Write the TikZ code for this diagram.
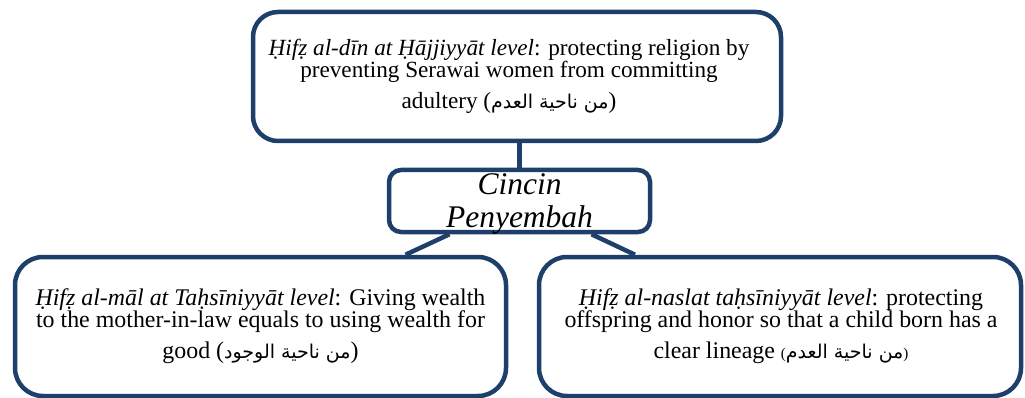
\documentclass[tikz,border=0pt]{standalone}
\usepackage{fontspec}
\setmainfont{Liberation Serif}
\newfontfamily\arabicfont[Script=Arabic]{DejaVu Sans}
\TeXXeTstate=1
\usetikzlibrary{calc}
\definecolor{frameblue}{RGB}{31,63,107}
\newcommand\artext[1]{{\arabicfont\fontsize{19}{20}\selectfont\beginR #1\endR}}
\newcommand\smallparen[1]{{\fontsize{15}{15}\selectfont #1}}
\tikzset{
  box/.style={draw=frameblue, line width=4.5pt, rounded corners=#1,
    fill=white, inner sep=0pt},
  link/.style={draw=frameblue, line width=4.5pt},
  body/.style={align=center, inner sep=0pt, font=\fontsize{#1}{22}\selectfont},
  title/.style={align=center, inner sep=0pt, font=\itshape\fontsize{31.5}{33}\selectfont}
}
\begin{document}
\begin{tikzpicture}[x=1pt,y=-1pt]
\useasboundingbox (0,0) rectangle (1025,398);

% frames
\node[box=25pt, minimum width=528pt, minimum height=129pt] (din) at (517,76.5) {};
\node[box=12pt, minimum width=261pt, minimum height=62pt] (cincin) at (519.5,201) {};
\node[box=28pt, minimum width=491pt, minimum height=139pt] (mal) at (260.5,326.5) {};
\node[box=28pt, minimum width=482pt, minimum height=139pt] (nasl) at (780,326.5) {};

% connectors
\draw[link] (cincin.north) -- (cincin.north |- din.south);
\draw[link] ($(cincin.south)+(-70,0)$) -- ($(mal.north)+(145,0)$);
\draw[link] ($(cincin.south)+(72,0)$) -- ($(nasl.north)+(-145,0)$);

% religion level
\node[body=23.2] (dintext) at ($(din.center)+(-8,0)$)
  {\textit{Ḥifẓ al-dīn at Ḥājjiyyāt level}: protecting religion by\\
   preventing Serawai women from committing\\[9pt]
   adultery (\artext{من ناحية العدم})};

% the custom itself
\node[title] (cincintext) at ($(cincin.center)+(0,3)$) {Cincin\\Penyembah};

% wealth
\node[body=23.9] (maltext) at (mal.center)
  {\textit{Ḥifẓ al-māl at Taḥsīniyyāt level}: Giving wealth\\
   to the mother-in-law equals to using wealth for\\[9pt]
   good (\artext{من ناحية الوجود})};

% offspring
\node[body=23.9] (nasltext) at ($(nasl.center)+(1,0)$)
  {\textit{Ḥifẓ al-naslat taḥsīniyyāt level}: protecting\\
   offspring and honor so that a child born has a\\[9pt]
   clear lineage \smallparen{(}\artext{من ناحية العدم}\smallparen{)}};
\end{tikzpicture}
\end{document}
